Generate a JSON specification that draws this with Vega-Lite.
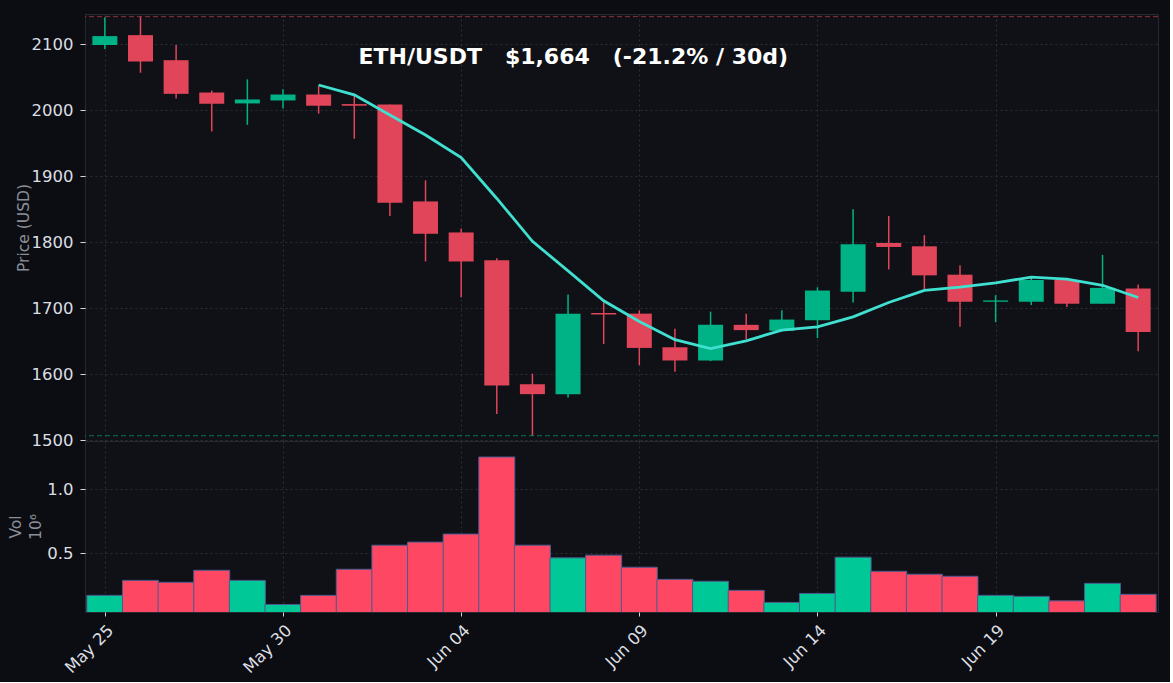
{
  "$schema": "https://vega.github.io/schema/vega-lite/v6.json",
  "background": "#0b0d13",
  "padding": {"left": 7, "top": 13, "right": 11, "bottom": 5},
  "spacing": 0,
  "bounds": "flush",
  "datasets": {
    "ohlc": [
      {"date": "2023-05-25T00:00:00", "open": 2099, "high": 2141, "low": 2093, "close": 2112.5, "vol": 0.170, "ma": null},
      {"date": "2023-05-26T00:00:00", "open": 2114, "high": 2142, "low": 2057, "close": 2074, "vol": 0.287, "ma": null},
      {"date": "2023-05-27T00:00:00", "open": 2076, "high": 2099, "low": 2018, "close": 2025, "vol": 0.272, "ma": null},
      {"date": "2023-05-28T00:00:00", "open": 2027, "high": 2030, "low": 1968, "close": 2010, "vol": 0.366, "ma": null},
      {"date": "2023-05-29T00:00:00", "open": 2010.5, "high": 2047, "low": 1978, "close": 2016.5, "vol": 0.287, "ma": null},
      {"date": "2023-05-30T00:00:00", "open": 2015, "high": 2032, "low": 2003, "close": 2024, "vol": 0.099, "ma": null},
      {"date": "2023-05-31T00:00:00", "open": 2024, "high": 2037, "low": 1995, "close": 2007, "vol": 0.170, "ma": 2038.4},
      {"date": "2023-06-01T00:00:00", "open": 2009.5, "high": 2022, "low": 1957, "close": 2007, "vol": 0.374, "ma": 2023.5},
      {"date": "2023-06-02T00:00:00", "open": 2009, "high": 2009, "low": 1840, "close": 1860, "vol": 0.562, "ma": 1993.0},
      {"date": "2023-06-03T00:00:00", "open": 1862, "high": 1894, "low": 1771, "close": 1813, "vol": 0.586, "ma": 1962.6},
      {"date": "2023-06-04T00:00:00", "open": 1815, "high": 1821, "low": 1717, "close": 1771, "vol": 0.649, "ma": 1928.4},
      {"date": "2023-06-05T00:00:00", "open": 1773, "high": 1776, "low": 1540, "close": 1583, "vol": 1.251, "ma": 1866.5},
      {"date": "2023-06-06T00:00:00", "open": 1585, "high": 1601, "low": 1507, "close": 1570, "vol": 0.562, "ma": 1801.6},
      {"date": "2023-06-07T00:00:00", "open": 1570, "high": 1721, "low": 1565, "close": 1692, "vol": 0.463, "ma": 1756.7},
      {"date": "2023-06-08T00:00:00", "open": 1693, "high": 1709, "low": 1646, "close": 1690.5, "vol": 0.484, "ma": 1711.5},
      {"date": "2023-06-09T00:00:00", "open": 1692, "high": 1697, "low": 1614, "close": 1640, "vol": 0.390, "ma": 1680.0},
      {"date": "2023-06-10T00:00:00", "open": 1641, "high": 1669, "low": 1604, "close": 1621, "vol": 0.295, "ma": 1652.6},
      {"date": "2023-06-11T00:00:00", "open": 1621, "high": 1695, "low": 1620, "close": 1675, "vol": 0.280, "ma": 1638.9},
      {"date": "2023-06-12T00:00:00", "open": 1675, "high": 1692, "low": 1653, "close": 1667, "vol": 0.209, "ma": 1650.8},
      {"date": "2023-06-13T00:00:00", "open": 1666, "high": 1697, "low": 1665, "close": 1683, "vol": 0.115, "ma": 1667.0},
      {"date": "2023-06-14T00:00:00", "open": 1682, "high": 1732, "low": 1655, "close": 1727, "vol": 0.185, "ma": 1672.0},
      {"date": "2023-06-15T00:00:00", "open": 1725, "high": 1850, "low": 1709, "close": 1797, "vol": 0.468, "ma": 1687.1},
      {"date": "2023-06-16T00:00:00", "open": 1799, "high": 1840, "low": 1759, "close": 1793, "vol": 0.358, "ma": 1708.9},
      {"date": "2023-06-17T00:00:00", "open": 1794, "high": 1811, "low": 1729, "close": 1750, "vol": 0.335, "ma": 1727.2},
      {"date": "2023-06-18T00:00:00", "open": 1751, "high": 1765, "low": 1672, "close": 1710, "vol": 0.319, "ma": 1732.3},
      {"date": "2023-06-19T00:00:00", "open": 1710, "high": 1720, "low": 1679, "close": 1712, "vol": 0.170, "ma": 1738.7},
      {"date": "2023-06-20T00:00:00", "open": 1710, "high": 1746, "low": 1705, "close": 1743, "vol": 0.162, "ma": 1747.3},
      {"date": "2023-06-21T00:00:00", "open": 1743, "high": 1746, "low": 1702, "close": 1707, "vol": 0.127, "ma": 1744.4},
      {"date": "2023-06-22T00:00:00", "open": 1707, "high": 1781, "low": 1707, "close": 1731, "vol": 0.264, "ma": 1735.0},
      {"date": "2023-06-23T00:00:00", "open": 1730, "high": 1736, "low": 1635, "close": 1664, "vol": 0.178, "ma": 1716.5}
    ]
  },
  "vconcat": [
    {
      "width": 1073,
      "height": 427,
      "data": {"name": "ohlc"},
      "layer": [
        {
          "mark": {"type": "rule", "strokeWidth": 1.5},
          "encoding": {
            "x": {
              "field": "date", "type": "temporal",
              "scale": {"domain": [{"year": 2023, "month": 5, "date": 24, "hours": 14}, {"year": 2023, "month": 6, "date": 23, "hours": 10}]},
              "axis": {
                "title": null, "labels": false, "ticks": false, "domain": false, "minExtent": 0, "maxExtent": 0, "offset": 0,
                "values": [{"year": 2023, "month": 5, "date": 25}, {"year": 2023, "month": 5, "date": 30}, {"year": 2023, "month": 6, "date": 4}, {"year": 2023, "month": 6, "date": 9}, {"year": 2023, "month": 6, "date": 14}, {"year": 2023, "month": 6, "date": 19}]
              }
            },
            "y": {
              "field": "low", "type": "quantitative",
              "scale": {"domain": [1499, 2146], "zero": false, "nice": false},
              "axis": {"title": "Price (USD)", "format": "d", "values": [1500, 1600, 1700, 1800, 1900, 2000, 2100], "titlePadding": 0, "labelFontSize": 16.5, "titleFontSize": 15.5}
            },
            "y2": {"field": "high"},
            "color": {"condition": {"test": "datum.close >= datum.open", "value": "#00b386"}, "value": "#e0455a"}
          }
        },
        {
          "mark": {"type": "bar", "size": 25},
          "encoding": {
            "x": {"field": "date", "type": "temporal"},
            "y": {"field": "open", "type": "quantitative"},
            "y2": {"field": "close"},
            "color": {"condition": {"test": "datum.close >= datum.open", "value": "#00b386"}, "value": "#e0455a"}
          }
        },
        {
          "mark": {"type": "line", "color": "#40e0d0", "strokeWidth": 2.8},
          "encoding": {
            "x": {"field": "date", "type": "temporal"},
            "y": {"field": "ma", "type": "quantitative"}
          }
        },
        {
          "data": {"values": [{}]},
          "mark": {"type": "rule", "color": "#e0455a", "strokeDash": [5, 3], "strokeWidth": 1, "opacity": 0.6},
          "encoding": {"y": {"datum": 2142}}
        },
        {
          "data": {"values": [{}]},
          "mark": {"type": "rule", "color": "#00b386", "strokeDash": [5, 3], "strokeWidth": 1, "opacity": 0.6},
          "encoding": {"y": {"datum": 1507}}
        },
        {
          "data": {"values": [{}]},
          "mark": {"type": "text", "font": "DejaVu Sans", "fontWeight": "bold", "fontSize": 22, "color": "#ffffff", "align": "center", "baseline": "middle"},
          "encoding": {
            "x": {"datum": {"year": 2023, "month": 6, "date": 7, "hours": 3, "minutes": 30}},
            "y": {"datum": 2081},
            "text": {"value": "ETH/USDT\u00a0\u00a0\u00a0$1,664\u00a0\u00a0\u00a0(-21.2% / 30d)"}
          }
        }
      ]
    },
    {
      "width": 1073,
      "height": 171,
      "data": {"name": "ohlc"},
      "mark": {"type": "bar", "size": 36, "stroke": "#4b5b8e", "strokeWidth": 1, "clip": true},
      "encoding": {
        "x": {
          "field": "date", "type": "temporal",
          "scale": {"domain": [{"year": 2023, "month": 5, "date": 24, "hours": 14}, {"year": 2023, "month": 6, "date": 23, "hours": 10}]},
          "axis": {
            "title": null, "format": "%b %d", "labelAngle": -45, "domain": false, "labelFontSize": 16.5, "tickSize": 4, "labelPadding": 6,
            "values": [{"year": 2023, "month": 5, "date": 25}, {"year": 2023, "month": 5, "date": 30}, {"year": 2023, "month": 6, "date": 4}, {"year": 2023, "month": 6, "date": 9}, {"year": 2023, "month": 6, "date": 14}, {"year": 2023, "month": 6, "date": 19}]
          }
        },
        "y": {
          "field": "vol", "type": "quantitative",
          "scale": {"domain": [0.04, 1.376], "zero": false, "nice": false},
          "axis": {"title": ["Vol", "10⁶"], "values": [0.5, 1.0], "format": ".1f", "titlePadding": 3.5, "titleLineHeight": 20, "labelFontSize": 16.5, "titleFontSize": 15.5}
        },
        "color": {"condition": {"test": "datum.close >= datum.open", "value": "#00c896"}, "value": "#fe4763"}
      }
    }
  ],
  "config": {
    "font": "DejaVu Sans",
    "view": {"fill": "#0f1116", "stroke": "#262930"},
    "axis": {
      "labelColor": "#dcdee2",
      "labelFont": "DejaVu Sans",
      "titleColor": "#8b8f98",
      "titleFontWeight": "normal",
      "titleFont": "DejaVu Sans",
      "gridColor": "#2b2e36",
      "gridDash": [2, 3],
      "tickColor": "#d4d6da",
      "tickSize": 5,
      "labelPadding": 7,
      "domain": false
    }
  }
}
